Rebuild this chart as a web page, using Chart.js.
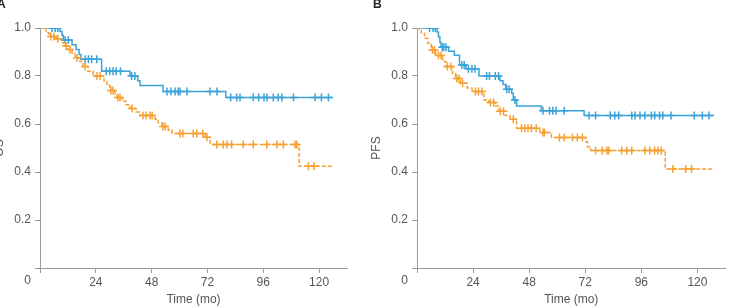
<!DOCTYPE html>
<html lang="en">
<head>
  <meta charset="UTF-8"/>
  <title>OS and PFS Kaplan-Meier curves</title>
  <script src="https://cdn.jsdelivr.net/npm/chart.js"></script>
  <style>
    body { margin: 0; background: #fff; }
    .panel { position: absolute; top: 0; height: 306px; }
  </style>
</head>
<body>
  <div class="panel" style="left:0;width:365px"><canvas id="chartA" width="365" height="306"></canvas></div>
  <div class="panel" style="left:365px;width:366px"><canvas id="chartB" width="366" height="306"></canvas></div>

  <script>
    // tick values
    const xTicks = [0, 24, 48, 72, 96, 120];
    const yTicks = [0, 0.2, 0.4, 0.6, 0.8, 1.0];

    // Panel A (OS) - blue group: event times / survival after each event
    const osBlueT = [0, 8.6, 9.5, 10.0, 13.8, 15.5, 16.8, 17.6, 26.5, 38.7, 42.0, 43.0, 52.9, 79.9];
    const osBlueS = [1.0, 0.985, 0.97, 0.95, 0.93, 0.91, 0.89, 0.87, 0.82, 0.80, 0.78, 0.76, 0.735, 0.71];
    const osBlueCens = [5.2, 6.5, 7.7, 10.8, 12.2, 19.4, 20.8, 22.2, 24.4, 28.5, 30.0, 31.4, 32.7, 34.6, 39.4, 40.8,
      54.6, 56.3, 58.1, 59.4, 60.2, 63.2, 73.1, 76.1, 82.0, 84.6, 86.0, 91.7, 94.0, 96.3, 97.6, 100.3, 102.4, 104.0,
      109.0, 118.3, 121.0, 124.0];
    const osBlueEnd = 126;

    // Panel A (OS) - orange group
    const osOrangeT = [0, 2.6, 3.9, 6.9, 9.0, 10.3, 12.0, 13.8, 15.1, 17.2, 18.5, 20.6, 22.8, 27.5, 28.8, 30.1, 32.3,
      33.1, 35.3, 37.0, 38.7, 41.3, 43.0, 49.5, 50.8, 52.5, 55.1, 56.8, 71.0, 73.1, 111.4];
    const osOrangeS = [1.0, 0.98, 0.965, 0.955, 0.94, 0.925, 0.91, 0.895, 0.875, 0.86, 0.84, 0.82, 0.80, 0.78, 0.76,
      0.74, 0.725, 0.71, 0.695, 0.68, 0.665, 0.65, 0.635, 0.62, 0.605, 0.59, 0.575, 0.56, 0.545, 0.515, 0.424];
    const osOrangeCens = [4.7, 6.0, 7.7, 11.2, 12.9, 15.9, 19.4, 24.5, 25.8, 30.5, 31.4, 33.5, 34.4, 39.6, 44.3, 45.6,
      47.3, 48.2, 52.9, 53.8, 60.2, 61.4, 65.9, 67.4, 70.0, 71.8, 76.0, 78.7, 80.4, 82.4, 87.4, 91.7, 97.5, 101.8,
      104.6, 109.7, 110.4, 115.4, 117.8];
    const osOrangeEnd = 126;

    // Panel B (PFS) - blue group
    const pfsBlueT = [0, 8.6, 9.2, 9.8, 10.3, 13.5, 16.0, 18.2, 21.0, 26.5, 35.5, 36.8, 38.0, 40.5, 41.2, 42.6, 53.2, 71.5];
    const pfsBlueS = [1.0, 0.983, 0.962, 0.94, 0.92, 0.903, 0.886, 0.846, 0.83, 0.80, 0.78, 0.765, 0.745, 0.728, 0.70,
      0.675, 0.655, 0.635];
    const pfsBlueCens = [5.4, 6.8, 7.8, 10.8, 11.5, 12.4, 19.2, 20.2, 22.0, 23.5, 24.8, 29.8, 31.0, 33.5, 34.9, 38.4,
      39.4, 41.9, 53.9, 56.7, 58.1, 59.5, 63.0, 73.6, 76.4, 82.7, 84.6, 86.3, 91.9, 93.3, 95.4, 97.5, 100.3, 101.7,
      103.8, 105.2, 108.7, 118.6, 122.1, 124.9];
    const pfsBlueEnd = 127;

    // Panel B (PFS) - orange group
    const pfsOrangeT = [0, 1.0, 1.8, 3.2, 4.6, 6.1, 8.0, 11.0, 12.4, 15.2, 16.5, 18.7, 21.5, 23.6, 28.6, 30.7, 33.5,
      34.9, 37.7, 39.8, 42.6, 52.5, 57.5, 72.2, 72.9, 74.3, 106.2];
    const pfsOrangeS = [1.0, 0.99, 0.978, 0.957, 0.936, 0.908, 0.885, 0.86, 0.84, 0.81, 0.79, 0.77, 0.75, 0.735, 0.70,
      0.69, 0.675, 0.653, 0.635, 0.62, 0.582, 0.565, 0.544, 0.526, 0.505, 0.49, 0.413];
    const pfsOrangeCens = [6.6, 7.5, 9.2, 10.3, 13.0, 14.5, 17.0, 18.0, 19.5, 25.0, 26.3, 27.8, 31.4, 32.8, 35.6, 37.0,
      41.2, 44.7, 46.1, 47.5, 48.9, 51.0, 53.9, 54.5, 60.9, 63.0, 66.5, 68.6, 70.8, 76.4, 79.2, 81.3, 82.0, 87.6, 89.8,
      91.9, 97.5, 99.6, 101.7, 103.1, 104.5, 109.5, 115.0, 117.5];
    const pfsOrangeEnd = 127;

    const blue = '#3ba3d8';
    const orange = '#f6a032';
    const axisColor = '#9a9a9a';
    const textColor = '#555';
    const fontFamily = "Arial, 'Liberation Sans', sans-serif";

    function stepLine(times, surv, end) {
      const pts = times.map((t, i) => ({ x: t, y: surv[i] }));
      pts.push({ x: end, y: surv[surv.length - 1] });
      return pts;
    }

    function survAt(times, surv, t) {
      let s = surv[0];
      for (let i = 0; i < times.length; i++) {
        if (times[i] <= t) s = surv[i];
      }
      return s;
    }

    function censorPoints(times, surv, cens) {
      return cens.map(t => ({ x: t, y: survAt(times, surv, t) }));
    }

    // panel letter + shared origin "0"
    const extraText = {
      id: 'extraText',
      afterDraw(chart, args, opts) {
        const { ctx, chartArea } = chart;
        ctx.save();
        ctx.fillStyle = '#222';
        ctx.font = 'bold 12px ' + fontFamily;
        ctx.textAlign = 'left';
        ctx.textBaseline = 'alphabetic';
        ctx.fillText(opts.letter, opts.letterX, 8);
        ctx.fillStyle = textColor;
        ctx.font = '12px ' + fontFamily;
        ctx.textAlign = 'right';
        ctx.textBaseline = 'middle';
        ctx.fillText('0', chartArea.left - 9, chartArea.bottom + 13);
        ctx.restore();
      }
    };

    function buildChart(id, p) {
      return new Chart(document.getElementById(id), {
        type: 'line',
        data: {
          datasets: [
            {
              data: stepLine(p.orangeT, p.orangeS, p.orangeEnd),
              borderColor: orange, borderWidth: 1.5, borderDash: [4, 2],
              stepped: 'before', pointRadius: 0, fill: false
            },
            {
              data: censorPoints(p.orangeT, p.orangeS, p.orangeCens),
              showLine: false, pointStyle: 'cross', pointRadius: 4,
              pointBorderColor: orange, pointBorderWidth: 1.5
            },
            {
              data: stepLine(p.blueT, p.blueS, p.blueEnd),
              borderColor: blue, borderWidth: 1.5,
              stepped: 'before', pointRadius: 0, fill: false
            },
            {
              data: censorPoints(p.blueT, p.blueS, p.blueCens),
              showLine: false, pointStyle: 'cross', pointRadius: 4,
              pointBorderColor: blue, pointBorderWidth: 1.5
            }
          ]
        },
        options: {
          responsive: false,
          animation: false,
          devicePixelRatio: 1,
          layout: { padding: { top: 28, right: p.padRight, left: 0, bottom: 0 } },
          plugins: {
            legend: { display: false },
            tooltip: { enabled: false },
            extraText: { letter: p.letter, letterX: p.letterX }
          },
          scales: {
            x: {
              type: 'linear', min: 0, max: 132,
              afterBuildTicks: s => { s.ticks = xTicks.map(v => ({ value: v })); },
              afterFit: s => { s.height = 38; },
              ticks: {
                callback: v => (v === 0 ? '' : v),
                color: textColor, font: { size: 12, family: fontFamily }, padding: 2, maxRotation: 0
              },
              grid: { drawOnChartArea: false, drawTicks: true, tickLength: 5, color: axisColor },
              border: { display: true, color: axisColor, width: 1 },
              title: {
                display: true, text: 'Time (mo)', color: textColor,
                font: { size: 12, family: fontFamily, lineHeight: 1 }, padding: { top: 0, bottom: 0 }
              }
            },
            y: {
              min: 0, max: 1,
              afterBuildTicks: s => { s.ticks = yTicks.map(v => ({ value: v })); },
              afterFit: s => { s.width = p.yWidth; },
              ticks: {
                callback: v => (v === 0 ? '' : v.toFixed(1)),
                color: textColor, font: { size: 12, family: fontFamily }, padding: 4
              },
              grid: { drawOnChartArea: false, drawTicks: true, tickLength: 5, color: axisColor },
              border: { display: true, color: axisColor, width: 1 },
              title: {
                display: true, text: p.yTitle, color: textColor,
                font: { size: 12, family: fontFamily, lineHeight: 1 }, padding: { top: p.yTitlePad, bottom: 0 }
              }
            }
          }
        },
        plugins: [extraText]
      });
    }

    buildChart('chartA', {
      letter: 'A', letterX: -3, yTitle: 'OS', yTitlePad: -6, yWidth: 40, padRight: 18,
      blueT: osBlueT, blueS: osBlueS, blueCens: osBlueCens, blueEnd: osBlueEnd,
      orangeT: osOrangeT, orangeS: osOrangeS, orangeCens: osOrangeCens, orangeEnd: osOrangeEnd
    });

    buildChart('chartB', {
      letter: 'B', letterX: 8, yTitle: 'PFS', yTitlePad: 5.5, yWidth: 52, padRight: 1,
      blueT: pfsBlueT, blueS: pfsBlueS, blueCens: pfsBlueCens, blueEnd: pfsBlueEnd,
      orangeT: pfsOrangeT, orangeS: pfsOrangeS, orangeCens: pfsOrangeCens, orangeEnd: pfsOrangeEnd
    });
  </script>
</body>
</html>
